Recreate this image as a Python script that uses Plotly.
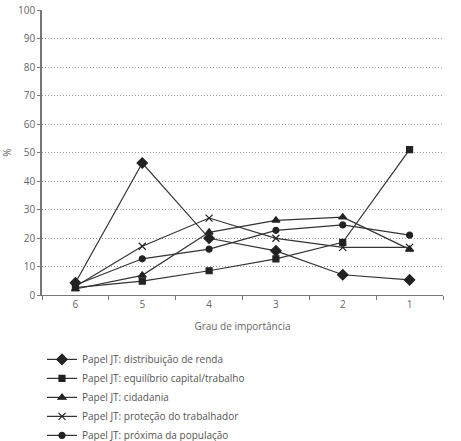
import plotly.graph_objects as go

categories = ["6", "5", "4", "3", "2", "1"]
series_names = [
    "Papel JT: distribuição de renda",
    "Papel JT: equilíbrio capital/trabalho",
    "Papel JT: cidadania",
    "Papel JT: proteção do trabalhador",
    "Papel JT: próxima da população",
]
distribuicao = [4.3, 46.3, 19.9, 15.5, 7.1, 5.3]
equilibrio = [2.6, 4.9, 8.5, 12.7, 18.5, 51.0]
cidadania = [2.1, 6.9, 22.0, 26.2, 27.3, 16.0]
protecao = [3.0, 17.1, 27.0, 19.9, 16.7, 16.7]
proxima = [3.5, 12.7, 16.1, 22.7, 24.6, 21.0]
y_ticks = [0, 10, 20, 30, 40, 50, 60, 70, 80, 90, 100]

series = [distribuicao, equilibrio, cidadania, protecao, proxima]
symbols = ["diamond", "square", "triangle-up", "x-thin-open", "circle"]
sizes = [8, 6, 7, 7, 6]

fig = go.Figure()
for name, vals, sym, sz in zip(series_names, series, symbols, sizes):
    fig.add_trace(go.Scatter(
        x=categories, y=vals, name=name, mode="lines+markers",
        line=dict(color="#333333", width=1.2),
        marker=dict(symbol=sym, size=sz, color="#222222",
                    line=dict(color="#222222", width=1.2)),
    ))

font = "Open Sans, DejaVu Sans, sans-serif"
fig.update_layout(
    width=461, height=441,
    margin=dict(l=42, r=18, t=10, b=146, autoexpand=False),
    paper_bgcolor="white", plot_bgcolor="white",
    font=dict(family=font, size=10, color="#666666"),
    showlegend=True,
    legend=dict(x=0.0, y=-0.175, xanchor="left", yanchor="top",
                orientation="v", tracegroupgap=0,
                font=dict(size=10, color="#555555"),
                bgcolor="rgba(0,0,0,0)"),
    xaxis=dict(
        type="category", categoryorder="array", categoryarray=categories,
        range=[-0.5, 5.5],
        showline=True, linecolor="#777777", linewidth=1.2,
        ticks="outside", ticklen=4, tickcolor="#777777", tickson="boundaries",
        showgrid=False, zeroline=False,
        title=dict(text="Grau de importância", standoff=12, font=dict(size=10, color="#666666")),
        tickfont=dict(size=10, color="#666666"),
    ),
    yaxis=dict(
        range=[0, 100], tickvals=y_ticks,
        showline=True, linecolor="#777777", linewidth=1.5,
        ticks="outside", ticklen=3, tickcolor="#777777",
        showgrid=True, gridcolor="#999999", griddash="1px,2px", gridwidth=1,
        zeroline=False,
        title=dict(text="%", standoff=12, font=dict(size=10, color="#666666")),
        tickfont=dict(size=10, color="#666666"),
    ),
)

fig.write_html("out.html")
